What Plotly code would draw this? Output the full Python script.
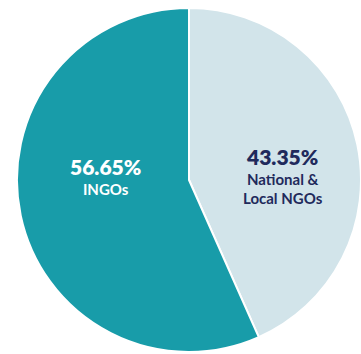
import plotly.graph_objects as go

labels = ["National & Local NGOs", "INGOs"]
values = [43.35, 56.65]
colors = ["#d2e4ea", "#189ca9"]
pct_text = ["43.35%", "56.65%"]
name_lines = [["National &", "Local NGOs"], ["INGOs"]]
text_colors = ["#1f2a5c", "#ffffff"]

W, H = 361, 354
L, R, T, B = 17, 0, 8, 2
pw, ph = W - L - R, H - T - B

fig = go.Figure(go.Pie(
    labels=labels, values=values, sort=False, direction="clockwise", rotation=0,
    marker=dict(colors=colors, line=dict(color="#ffffff", width=2)),
    textinfo="none", hoverinfo="label+percent", showlegend=False,
))

def px2paper(x, y):
    return (x - L) / pw, 1 - (y - T) / ph

# label anchor positions (pixel, top of text block)
label_pos = [(283, 142), (105, 152)]
anns = []
for i in range(2):
    cx, cy = label_pos[i]
    x, y = px2paper(cx, cy)
    txt = ("<span style='font-size:21px;font-weight:800'>" + pct_text[i] + "</span><br>"
           + "<br>".join(name_lines[i]))
    anns.append(dict(x=x, y=y, xref="paper", yref="paper", text=txt, showarrow=False,
                     font=dict(family="Lato", size=15, color=text_colors[i], weight=700),
                     xanchor="center", yanchor="top", align="center"))

fig.update_layout(
    width=W, height=H, margin=dict(l=L, r=R, t=T, b=B),
    paper_bgcolor="#ffffff", plot_bgcolor="#ffffff", annotations=anns,
)
fig.write_html("out.html")
